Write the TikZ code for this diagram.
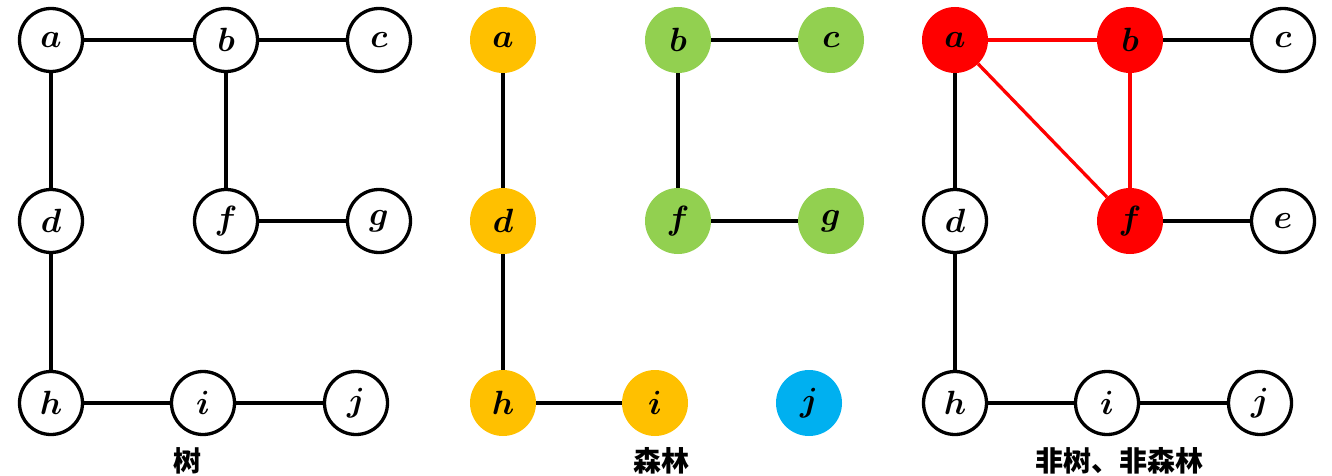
\documentclass[tikz,border=0pt]{standalone}
\usepackage{fontspec}
\newfontfamily\cjk{Noto Sans CJK SC}
\newcommand\vlab[1]{\scalebox{1.35}{\Huge\boldmath$#1$}}
\definecolor{cgold}{HTML}{FFC000}
\definecolor{cgreen}{HTML}{92D050}
\definecolor{cblue}{HTML}{00B0F0}
\definecolor{cred}{HTML}{FF0000}
\tikzset{
  vtx/.style={circle, minimum size=63pt, inner sep=0pt, line width=3.3pt, draw=black, fill=white},
  fvtx/.style={circle, minimum size=66pt, inner sep=0pt, draw=none, fill=#1},
  edge/.style={line width=3.3pt, draw=black},
  redge/.style={line width=3.3pt, draw=cred},
  captxt/.style={font=\cjk\bfseries\fontsize{28}{28}\selectfont}
}
\begin{document}
\begin{tikzpicture}[x=1pt,y=-1pt]
\useasboundingbox (0,0) rectangle (1332,476);
% ---- Tree ----
\node[vtx] (La) at (51,40) {\vlab{a}};
\node[vtx] (Lb) at (226,40) {\vlab{b}};
\node[vtx] (Lc) at (379,40) {\vlab{c}};
\node[vtx] (Ld) at (51,221) {\vlab{d}};
\node[vtx] (Lf) at (226,221) {\vlab{f}};
\node[vtx] (Lg) at (379,221) {\vlab{g}};
\node[vtx] (Lh) at (51,403) {\vlab{h}};
\node[vtx] (Li) at (203,403) {\vlab{i}};
\node[vtx] (Lj) at (356,403) {\vlab{j}};
\draw[edge] (La) -- (Lb);
\draw[edge] (Lb) -- (Lc);
\draw[edge] (La) -- (Ld);
\draw[edge] (Lb) -- (Lf);
\draw[edge] (Lf) -- (Lg);
\draw[edge] (Ld) -- (Lh);
\draw[edge] (Lh) -- (Li);
\draw[edge] (Li) -- (Lj);
\node[captxt] (Lcap) at (187,461) {树};
% ---- Forest ----
\node[fvtx=cgold] (Ma) at (503,40) {\vlab{a}};
\node[fvtx=cgreen] (Mb) at (678,40) {\vlab{b}};
\node[fvtx=cgreen] (Mc) at (831,40) {\vlab{c}};
\node[fvtx=cgold] (Md) at (503,221) {\vlab{d}};
\node[fvtx=cgreen] (Mf) at (678,221) {\vlab{f}};
\node[fvtx=cgreen] (Mg) at (831,221) {\vlab{g}};
\node[fvtx=cgold] (Mh) at (503,403) {\vlab{h}};
\node[fvtx=cgold] (Mi) at (655,403) {\vlab{i}};
\node[fvtx=cblue] (Mj) at (809,403) {\vlab{j}};
\draw[edge] (Ma) -- (Md);
\draw[edge] (Md) -- (Mh);
\draw[edge] (Mh) -- (Mi);
\draw[edge] (Mb) -- (Mc);
\draw[edge] (Mb) -- (Mf);
\draw[edge] (Mf) -- (Mg);
\node[captxt] (Mcap) at (661,461) {森林};
% ---- Neither ----
\node[fvtx=cred] (Ra) at (955,40) {\vlab{a}};
\node[fvtx=cred] (Rb) at (1130,40) {\vlab{b}};
\node[vtx] (Rc) at (1283,40) {\vlab{c}};
\node[vtx] (Rd) at (955,221) {\vlab{d}};
\node[fvtx=cred] (Rf) at (1130,221) {\vlab{f}};
\node[vtx] (Re) at (1283,221) {\vlab{e}};
\node[vtx] (Rh) at (955,403) {\vlab{h}};
\node[vtx] (Ri) at (1107,403) {\vlab{i}};
\node[vtx] (Rj) at (1260,403) {\vlab{j}};
\draw[redge] (Ra) -- (Rb);
\draw[redge] (Ra) -- (Rf);
\draw[redge] (Rb) -- (Rf);
\draw[edge] (Rb) -- (Rc);
\draw[edge] (Rf) -- (Re);
\draw[edge] (Ra) -- (Rd);
\draw[edge] (Rd) -- (Rh);
\draw[edge] (Rh) -- (Ri);
\draw[edge] (Ri) -- (Rj);
\node[captxt] (Rcap) at (1119,461) {非树、非森林};
\end{tikzpicture}
\end{document}
